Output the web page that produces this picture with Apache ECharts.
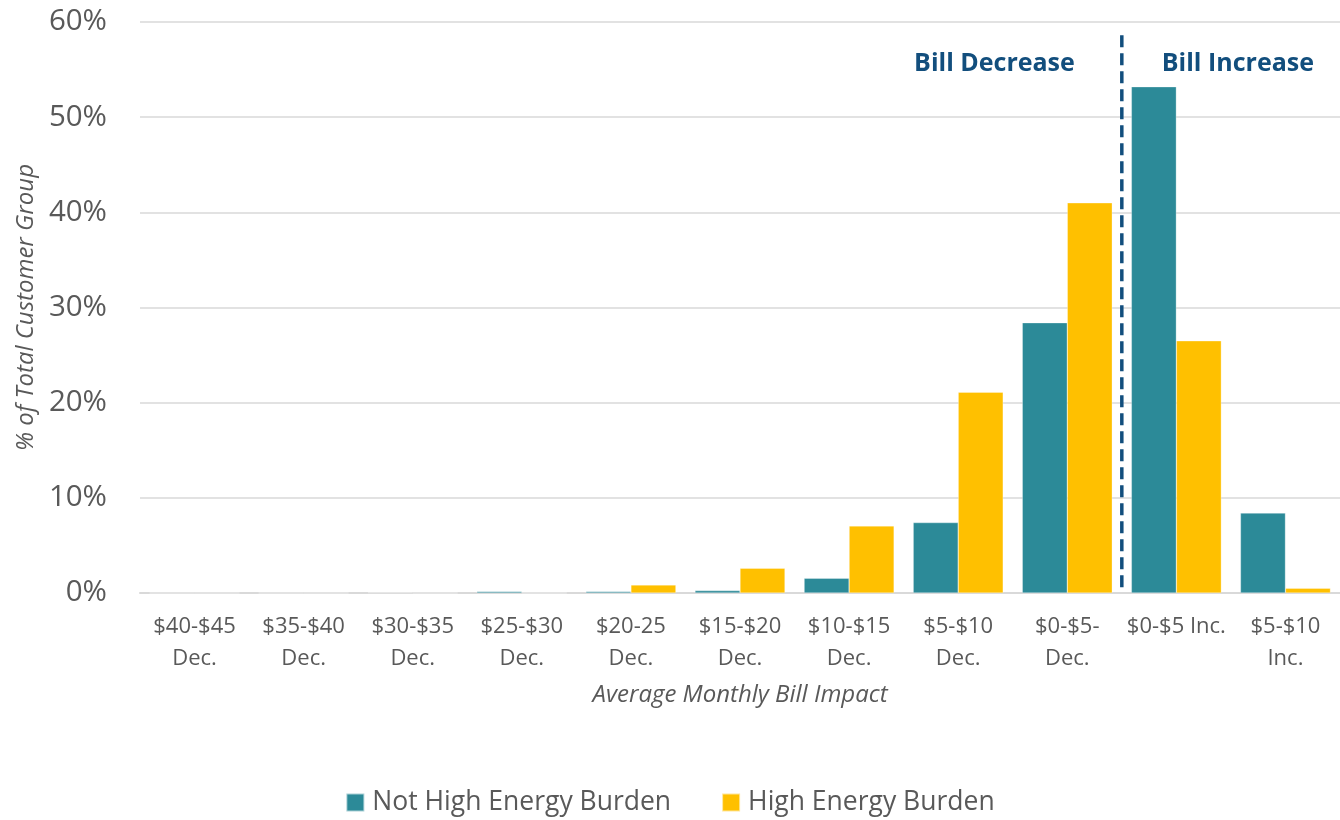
<!DOCTYPE html>
<html>
<head>
<meta charset="utf-8">
<script src="https://cdn.jsdelivr.net/npm/echarts@6/dist/echarts.min.js"></script>
<style>
  html, body { margin: 0; padding: 0; background: #fff; }
  #chart { width: 1340px; height: 820px; }
</style>
</head>
<body>
<div id="chart"></div>
<script>
// Bill impact bins (monthly), ordered from largest decrease to increase
const categories = [
  '$40-$45\nDec.', '$35-$40\nDec.', '$30-$35\nDec.', '$25-$30\nDec.',
  '$20-25\nDec.', '$15-$20\nDec.', '$10-$15\nDec.', '$5-$10\nDec.',
  '$0-$5-\nDec.', '$0-$5 Inc.', '$5-$10\nInc.'
];
// Share of each customer group (%) falling in each bin
const notHighBurden = [0, 0, 0.05, 0.15, 0.15, 0.25, 1.55, 7.4, 28.4, 53.2, 8.4];
const highBurden    = [0, 0, 0, 0, 0.85, 2.6, 7.05, 21.1, 41.0, 26.5, 0.5];
const yTicks = { min: 0, max: 60, interval: 10 };
const seriesNames = ['Not High Energy Burden', 'High Energy Burden'];
// Index of the last "decrease" bin; the divider sits after it
const lastDecreaseIndex = 8;

const FONT = '"Open Sans"';
const TEXT = '#595959';
const TEAL = '#2C8A98';
const GOLD = '#FFC000';
const NAVY = '#124E7D';

const chart = echarts.init(document.getElementById('chart'), null, { renderer: 'canvas' });

chart.setOption({
  animation: false,
  textStyle: { fontFamily: FONT },
  grid: { left: 140, right: 0, top: 22, bottom: 227, containLabel: false },
  legend: {
    bottom: -1,
    left: 'center',
    itemWidth: 18,
    itemHeight: 18,
    itemGap: 50,
    icon: 'rect',
    textStyle: { fontFamily: FONT, fontSize: 26.5, color: TEXT, padding: [0, 0, 0, 3] },
    data: seriesNames
  },
  xAxis: {
    type: 'category',
    data: categories,
    name: 'Average Monthly Bill Impact',
    nameLocation: 'middle',
    nameGap: 90,
    nameTextStyle: { fontFamily: FONT, fontSize: 24, fontStyle: 'italic', color: TEXT },
    axisLine: { lineStyle: { color: '#d9d9d9', width: 2 } },
    axisTick: { show: false },
    axisLabel: {
      fontFamily: FONT, fontSize: 22, color: TEXT,
      lineHeight: 32, margin: 18, interval: 0
    }
  },
  yAxis: {
    type: 'value',
    min: yTicks.min,
    max: yTicks.max,
    interval: yTicks.interval,
    name: '% of Total Customer Group',
    nameLocation: 'middle',
    nameRotate: 90,
    nameGap: 96,
    nameTextStyle: { fontFamily: FONT, fontSize: 24, fontStyle: 'italic', color: TEXT },
    axisLine: { show: false },
    axisTick: { show: false },
    splitLine: { lineStyle: { color: '#d9d9d9', width: 1.5 } },
    axisLabel: {
      fontFamily: FONT, fontSize: 29.5, color: TEXT, margin: 33,
      formatter: v => v + '%'
    }
  },
  series: [
    {
      name: seriesNames[0],
      type: 'bar',
      data: notHighBurden,
      barWidth: 45,
      barGap: '0%',
      itemStyle: { color: TEAL, borderColor: 'rgba(255,255,255,0.6)', borderWidth: 0.5 }
    },
    {
      name: seriesNames[1],
      type: 'bar',
      data: highBurden,
      barWidth: 45,
      barGap: '0%',
      itemStyle: { color: GOLD, borderColor: 'rgba(255,255,255,0.6)', borderWidth: 0.5 }
    }
  ]
});

// Divider between decrease and increase bins, placed from the axis scale
const xLeft = chart.convertToPixel({ xAxisIndex: 0 }, lastDecreaseIndex);
const xRight = chart.convertToPixel({ xAxisIndex: 0 }, lastDecreaseIndex + 1);
const xDiv = (xLeft + xRight) / 2;
const yBase = chart.convertToPixel({ yAxisIndex: 0 }, 0);
const yTop = chart.convertToPixel({ yAxisIndex: 0 }, 58.6);
const yLabel = chart.convertToPixel({ yAxisIndex: 0 }, 55.6);

chart.setOption({
  graphic: [
    {
      type: 'line',
      shape: { x1: xDiv, y1: yTop, x2: xDiv, y2: yBase },
      style: { stroke: NAVY, lineWidth: 3.5, lineDash: [12, 6] },
      z: 10
    },
    {
      type: 'text',
      x: xDiv - 47, y: yLabel,
      style: {
        text: 'Bill Decrease', fill: NAVY,
        font: 'bold 25px ' + FONT, align: 'right', verticalAlign: 'middle'
      },
      z: 10
    },
    {
      type: 'text',
      x: xDiv + 40, y: yLabel,
      style: {
        text: 'Bill Increase', fill: NAVY,
        font: 'bold 25px ' + FONT, align: 'left', verticalAlign: 'middle'
      },
      z: 10
    }
  ]
});
</script>
</body>
</html>
